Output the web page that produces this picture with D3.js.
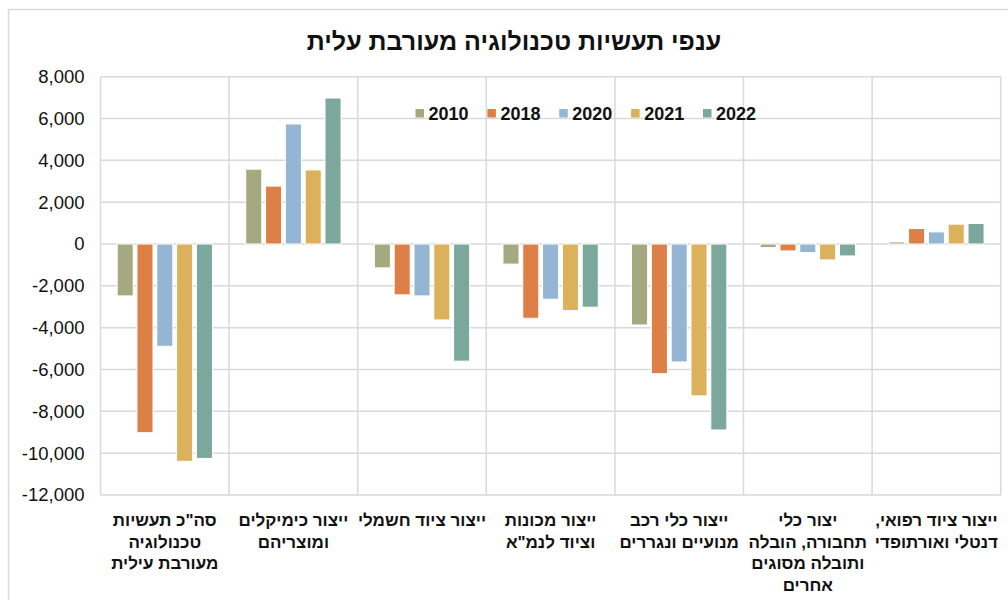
<!DOCTYPE html>
<html><head><meta charset="utf-8">
<script src="https://cdn.jsdelivr.net/npm/d3@7"></script>
<style>
html,body{margin:0;padding:0;background:#fff;}
svg{display:block;font-family:"Liberation Sans",Arial,sans-serif;}
</style></head>
<body><svg id="c" width="1008" height="600"></svg>
<script>
const title = "ענפי תעשיות טכנולוגיה מעורבת עלית";
const categories = [
  ["סה\"כ תעשיות","טכנולוגיה","מעורבת עילית"],
  ["ייצור כימיקלים","ומוצריהם"],
  ["ייצור ציוד חשמלי"],
  ["ייצור מכונות","וציוד לנמ\"א"],
  ["ייצור כלי רכב","מנועיים ונגררים"],
  ["יצור כלי","תחבורה, הובלה","ותובלה מסוגים","אחרים"],
  ["ייצור ציוד רפואי,","דנטלי ואורתופדי"]
];
const years = ["2010","2018","2020","2021","2022"];
const v2010 = [-2480, 3580, -1140, -960, -3870, -170, 100];
const v2018 = [-9020, 2770, -2430, -3550, -6200, -330, 740];
const v2020 = [-4890, 5740, -2480, -2640, -5640, -410, 580];
const v2021 = [-10390, 3540, -3630, -3180, -7260, -760, 950];
const v2022 = [-10250, 6980, -5600, -3020, -8890, -570, 980];
const yTicks = [-12000,-10000,-8000,-6000,-4000,-2000,0,2000,4000,6000,8000];
const colors = ["#A5A97F","#DD8047","#94B6D2","#DBB15C","#7BA79D"];

const seriesVals = [v2010, v2018, v2020, v2021, v2022];
const svg = d3.select("#c");
const L = 100.5, R = 1000.7, T = 76.7, B = 495;

// outer chart border
svg.append("rect").attr("x",8.5).attr("y",9.5).attr("width",1020).attr("height",620)
  .attr("fill","none").attr("stroke","#d9d9d9").attr("stroke-width",1.5);

const catIdx = categories.map((d,i)=>i);
const x0 = d3.scaleBand().domain(catIdx).range([L,R]).padding(0);
const x1 = d3.scaleBand().domain(years).range([0,x0.bandwidth()]).paddingInner(0.19).paddingOuter(0.84);
const y = d3.scaleLinear().domain([-12000,8000]).range([B,T]);
const color = d3.scaleOrdinal().domain(years).range(colors);

// horizontal gridlines
svg.append("g").selectAll("line").data(yTicks).join("line")
  .attr("x1",L).attr("x2",R).attr("y1",d=>y(d)).attr("y2",d=>y(d))
  .attr("stroke","#d9d9d9").attr("stroke-width",1.5);
// vertical gridlines
const bounds = catIdx.map(i=>x0(i)).concat([R]);
svg.append("g").selectAll("line").data(bounds).join("line")
  .attr("x1",d=>d).attr("x2",d=>d).attr("y1",T).attr("y2",B)
  .attr("stroke","#d9d9d9").attr("stroke-width",1.5);

// y axis labels
const loc = d3.formatLocale({decimal:".",thousands:",",grouping:[3],currency:["$",""],minus:"-"});
const yAxis = d3.axisLeft(y).tickValues(yTicks).tickFormat(loc.format(",")).tickSize(0).tickPadding(16);
const ga = svg.append("g").attr("transform",`translate(${L},0)`).call(yAxis);
ga.select(".domain").remove();
ga.selectAll("text").attr("font-size","18.5px").attr("fill","#111").attr("font-family","Liberation Sans, Arial, sans-serif");

// bars
const rows = [];
catIdx.forEach(ci=>years.forEach((yr,si)=>rows.push({ci, yr, v: seriesVals[si][ci]})));
svg.append("g").selectAll("rect").data(rows).join("rect")
  .attr("x",d=>x0(d.ci)+x1(d.yr))
  .attr("width",x1.bandwidth())
  .attr("y",d=>y(Math.max(0,d.v)))
  .attr("height",d=>Math.abs(y(d.v)-y(0)))
  .attr("fill",d=>color(d.yr))
  .attr("stroke","#fff").attr("stroke-width",1);

// category labels
const cg = svg.append("g");
categories.forEach((lines,ci)=>{
  const t = cg.append("text").attr("x",x0(ci)+x0.bandwidth()/2).attr("y",526)
    .attr("text-anchor","middle").attr("direction","rtl")
    .attr("font-size","17px").attr("font-weight","bold").attr("fill","#111");
  lines.forEach((ln,li)=>{
    t.append("tspan").attr("x",x0(ci)+x0.bandwidth()/2).attr("y",526+li*21.6).text(ln);
  });
});

// legend
const lg = svg.append("g");
const lx = d3.scalePoint().domain(years).range([415.5, 703]);
years.forEach(yr=>{
  lg.append("rect").attr("x",lx(yr)).attr("y",109).attr("width",8.5).attr("height",8.5).attr("fill",color(yr));
  lg.append("text").attr("x",lx(yr)+13).attr("y",120).attr("font-size","18px").attr("font-weight","bold")
    .attr("fill","#111").text(yr);
});

// title
svg.append("text").attr("x",514).attr("y",50).attr("text-anchor","middle").attr("direction","rtl")
  .attr("font-size","25px").attr("font-weight","bold").attr("fill","#111").text(title);
</script></body></html>
